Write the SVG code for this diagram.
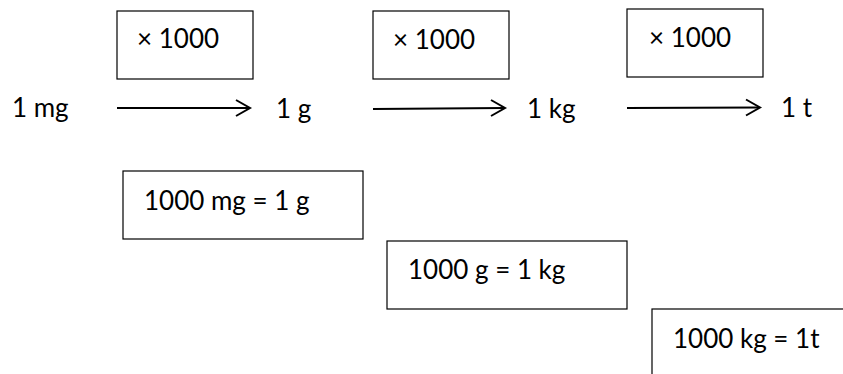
<svg xmlns="http://www.w3.org/2000/svg" width="843" height="374" viewBox="0 0 843 374">
  <style>
    .box { fill: #ffffff; stroke: #000000; stroke-width: 1.2; }
    .lbl { font-family: Lato, "Liberation Sans", sans-serif; font-size: 26px; fill: #000000; }
    .arrow { stroke: #000000; stroke-width: 2; fill: none; }
  </style>
  <rect width="843" height="374" fill="#ffffff"/>

  <!-- multiplier boxes -->
  <g id="mult1">
    <rect class="box" x="117" y="11" width="136" height="68"/>
    <text class="lbl" x="137" y="48">× 1000</text>
  </g>
  <g id="mult2">
    <rect class="box" x="373" y="11" width="136" height="68"/>
    <text class="lbl" x="393" y="49">× 1000</text>
  </g>
  <g id="mult3">
    <rect class="box" x="627" y="9" width="136" height="68"/>
    <text class="lbl" x="649" y="47">× 1000</text>
  </g>

  <!-- unit labels -->
  <g id="unit-mg"><text class="lbl" x="12" y="117">1 mg</text></g>
  <g id="unit-g"><text class="lbl" x="276" y="118">1 g</text></g>
  <g id="unit-kg"><text class="lbl" x="527" y="118">1 kg</text></g>
  <g id="unit-t"><text class="lbl" x="781" y="117">1 t</text></g>

  <!-- equivalence boxes -->
  <g id="eq-mg-g">
    <rect class="box" x="123" y="171" width="240" height="68"/>
    <text class="lbl" x="144" y="210">1000 mg = 1 g</text>
  </g>
  <g id="eq-g-kg">
    <rect class="box" x="387" y="241" width="240" height="68"/>
    <text class="lbl" x="408" y="279">1000 g = 1 kg</text>
  </g>
  <g id="eq-kg-t">
    <rect class="box" x="652" y="309" width="240" height="80"/>
    <text class="lbl" x="673" y="348">1000 kg = 1t</text>
  </g>

  <!-- connectors -->
  <g id="connectors">
    <line class="arrow" x1="117" y1="108" x2="249" y2="108"/>
    <polyline class="arrow" points="236,100 250,108 236,116"/>
    <line class="arrow" x1="373" y1="109" x2="504" y2="108"/>
    <polyline class="arrow" points="491,100 505,108 491,116"/>
    <line class="arrow" x1="627" y1="108" x2="759" y2="107.5"/>
    <polyline class="arrow" points="746,99.5 760,107.5 746,115.5"/>
  </g>
</svg>
